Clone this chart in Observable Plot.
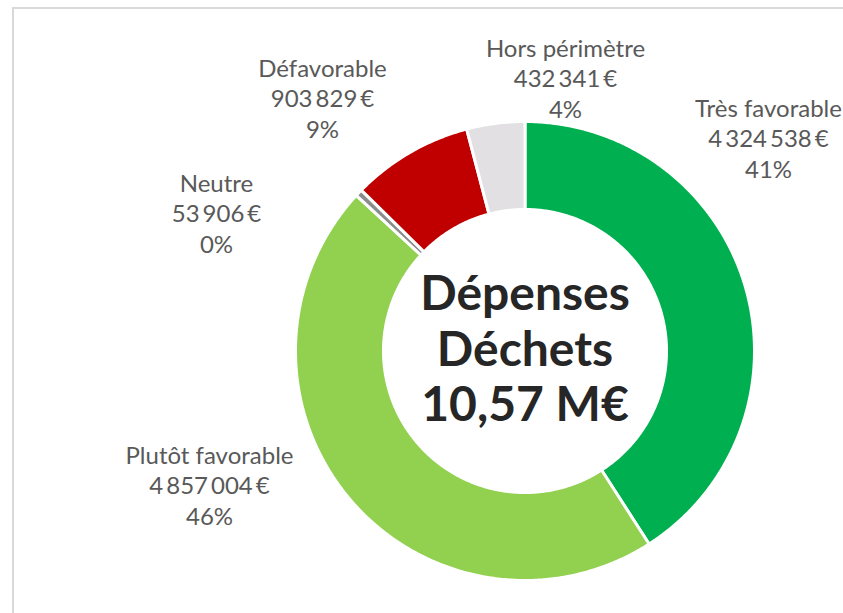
<!DOCTYPE html>
<html><head><meta charset="utf-8">
<script src="https://cdn.jsdelivr.net/npm/d3@7"></script>
<script src="https://cdn.jsdelivr.net/npm/@observablehq/plot@0.6"></script>
<style>
html,body{margin:0;padding:0;background:#fff;overflow:hidden}
#wrap{position:relative;width:843px;height:613px}
#chart{position:absolute;left:0;top:0}
#border{position:absolute;left:12px;top:7px;width:900px;height:700px;border:2px solid #d9d9d9;box-sizing:border-box;pointer-events:none}
</style></head><body>
<div id="wrap"><div id="chart"></div><div id="border"></div></div>
<script>
// ---- data ----
const categories = ["Très favorable", "Plutôt favorable", "Neutre", "Défavorable", "Hors périmètre"];
const amounts = [4324538, 4857004, 53906, 903829, 432341];
const percentLabels = ["41%", "46%", "0%", "9%", "4%"];
const colors = ["#00b050", "#92d050", "#8c8c8c", "#c00000", "#e2e0e2"];
const centerLines = ["Dépenses", "Déchets", "10,57 M€"];

// ---- layout (pixels) ----
const W = 843, H = 613;
const CX = 524.5, CY = 350.5, RPX = 229.5, INNER = 0.6166;
const labelAnchorsPx = [[768, 137], [209, 484], [216, 212], [322, 97], [565, 77]];

const fmt = d3.formatLocale({decimal: ",", thousands: "\u2009", grouping: [3], currency: ["", ""]}).format(",.0f");

// slice polygons from pie angles (clockwise from 12 o'clock)
const pie = d3.pie().sort(null).value(d => d)(amounts);
const rows = [];
pie.forEach((p, i) => {
  const a0 = p.startAngle, a1 = p.endAngle;
  const n = Math.max(2, Math.ceil((a1 - a0) / 0.01));
  const pts = [];
  for (let k = 0; k <= n; k++) { const t = a0 + (a1 - a0) * k / n; pts.push([Math.sin(t), Math.cos(t)]); }
  for (let k = n; k >= 0; k--) { const t = a0 + (a1 - a0) * k / n; pts.push([INNER * Math.sin(t), INNER * Math.cos(t)]); }
  pts.push(pts[0]);
  pts.forEach(([x, y]) => rows.push({cat: categories[i], x, y}));
});

const labels = categories.map((c, i) => ({
  text: `${c}\n${fmt(amounts[i])}\u2009€\n${percentLabels[i]}`,
  x: (labelAnchorsPx[i][0] - CX) / RPX,
  y: (CY - labelAnchorsPx[i][1]) / RPX
}));

const chart = Plot.plot({
  width: W, height: H,
  marginTop: 0, marginRight: 0, marginBottom: 0, marginLeft: 0,
  style: {background: "transparent"},
  x: {domain: [-CX / RPX, (W - CX) / RPX], axis: null},
  y: {domain: [-(H - CY) / RPX, CY / RPX], axis: null},
  color: {domain: categories, range: colors},
  marks: [
    Plot.line(rows, {x: "x", y: "y", z: "cat", fill: "cat", stroke: "white", strokeWidth: 3, strokeLinejoin: "round", curve: "linear"}),
    Plot.text(labels, {x: "x", y: "y", text: "text", fill: "#595959", fontSize: 24, lineHeight: 1.27, fontFamily: "Lato"}),
    Plot.text([centerLines.join("\n")], {x: 0, y: 3 / RPX, text: d => d, fill: "#262626", fontSize: 48, fontWeight: "bold", lineHeight: 1.15, fontFamily: "Lato"})
  ]
});
document.getElementById("chart").appendChild(chart);
</script>
</body></html>
